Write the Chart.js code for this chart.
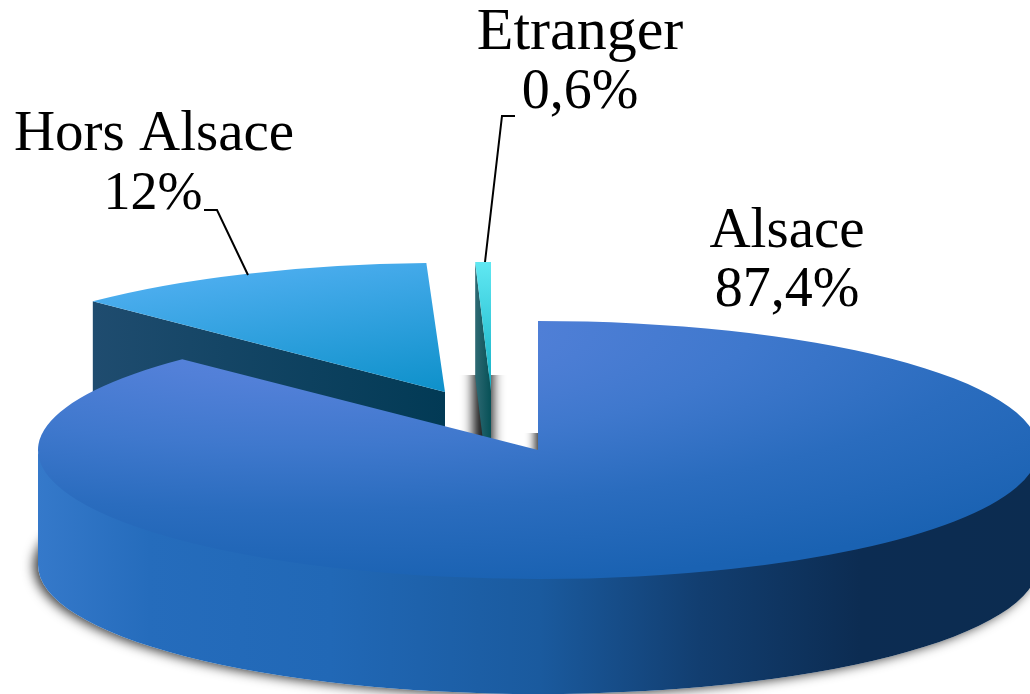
<!DOCTYPE html>
<html>
<head>
<meta charset="utf-8">
<script src="https://cdn.jsdelivr.net/npm/chart.js@4"></script>
<style>
  html, body { margin: 0; padding: 0; background: #fff; overflow: hidden; }
  #wrap { width: 1030px; height: 694px; }
</style>
</head>
<body>
<div id="wrap"><canvas id="pie" width="1030" height="694"></canvas></div>
<script>
const categories = ['Alsace', 'Hors Alsace', 'Etranger'];
const shares = [87.4, 12, 0.6];
const shareLabels = ['87,4%', '12%', '0,6%'];

// look of the tilted pie, in page pixels
const centerX = 538, centerY = 450, rimY = 129, depth = 115;
const rimX = [500, 495, 420];
const pullX = [0, -93, -47];
const pullY = [0, -58, -59];
const faceAxis = [null, [150, 270, 450, 400], [483, 262, 491, 390]];
const faceStops = [null, ['#52b0f2', '#0a8fc8'], ['#60e8f2', '#12b0c6']];
// big slice top is lit from a spot at the back left
const glowX = 300, glowY = 330, glowReach = 2;
const glowStops = [[0, '#5b84de'], [0.2, '#5280d8'], [0.45, '#3f78cd'], [0.7, '#2a6cbe'], [1, '#1a62b2']];
const wallStops = [
  [[38, '#3579ca'], [150, '#256cbc'], [330, '#2168b6'], [540, '#1a5a9e'], [700, '#123e70'], [860, '#0c2c52'], [1040, '#0c2c50']],
  [[93, '#1f4c6f'], [445, '#023a55']],
  [[475, '#2f6a74'], [491, '#065056']]
];
const labelSpots = [[787, 247, 787, 306], [154, 150, 153, 209], [580, 49, 580, 108]];
const nameSizes = [57, 57, 60];
const shareSizes = [56, 54, 56];
const leaders = [null, [[204, 210], [217, 210], [248, 275]], [[515, 116], [502, 116], [485, 262]]];

function faceFill(c) {
  const i = c.dataIndex, ch = c.chart;
  const R = Math.min(ch.width, ch.height) / 2;
  const sx = rimX[i] / R, sy = rimY / R;
  const ox = centerX + pullX[i], oy = centerY + pullY[i];
  const ux = x => ch.width / 2 + (x - ox) / sx;
  const uy = y => ch.height / 2 + (y - oy) / sy;
  if (i === 0) {
    const g = ch.ctx.createRadialGradient(ux(glowX), uy(glowY), 0, ux(glowX), uy(glowY), R * glowReach);
    glowStops.forEach(s => g.addColorStop(s[0], s[1]));
    return g;
  }
  const a = faceAxis[i];
  const g = ch.ctx.createLinearGradient(ux(a[0]), uy(a[1]), ux(a[2]), uy(a[3]));
  g.addColorStop(0, faceStops[i][0]);
  g.addColorStop(1, faceStops[i][1]);
  return g;
}

function wallFill(ctx, i) {
  const st = wallStops[i];
  const x0 = st[0][0], x1 = st[st.length - 1][0];
  const g = ctx.createLinearGradient(x0, 0, x1, 0);
  st.forEach(s => g.addColorStop((s[0] - x0) / (x1 - x0), s[1]));
  return g;
}

// only the blurred shadow lands on the canvas, the rect itself is far off to the left
function blurredRect(ctx, box, x, y, w, h, blur, alpha) {
  ctx.save();
  ctx.beginPath();
  ctx.rect(box[0], box[1], box[2], box[3]);
  ctx.clip();
  ctx.shadowColor = 'rgba(0,0,0,' + alpha + ')';
  ctx.shadowBlur = blur;
  ctx.shadowOffsetX = 3000;
  ctx.fillStyle = '#000';
  ctx.fillRect(x - 3000, y, w, h);
  ctx.restore();
}

function softShadows(ctx) {
  // under the base, the ellipse itself ends up behind the wall
  ctx.save();
  ctx.shadowColor = 'rgba(0,0,0,0.8)';
  ctx.shadowBlur = 12;
  ctx.shadowOffsetX = -4;
  ctx.shadowOffsetY = 1;
  ctx.fillStyle = '#fff';
  ctx.beginPath();
  ctx.rect(0, centerY + 80, 1030, 300);
  ctx.clip();
  ctx.beginPath();
  ctx.ellipse(centerX, centerY + depth, rimX[0], rimY, 0, 0, Math.PI * 2);
  ctx.fill();
  ctx.restore();
  blurredRect(ctx, [450, 375, 70, 70], 473, 340, 20, 110, 12, 0.9);
  blurredRect(ctx, [515, 433, 23, 20], 535, 410, 25, 50, 10, 0.85);
}

function drawWall(ctx, arc, i) {
  const tx = centerX + pullX[i], ty = centerY + pullY[i];
  ctx.fillStyle = wallFill(ctx, i);
  if (i === 0) {
    // outer rim, front half only, starts a bit higher so no seam shows under the top
    ctx.beginPath();
    ctx.ellipse(tx, ty - 3, rimX[i], rimY, 0, 0, Math.PI);
    ctx.ellipse(tx, ty + depth, rimX[i], rimY, 0, Math.PI, 0, true);
    ctx.closePath();
    ctx.fill();
    return;
  }
  // cut face that looks at the viewer
  const px = tx + rimX[i] * Math.cos(arc.startAngle), py = ty + rimY * Math.sin(arc.startAngle);
  ctx.beginPath();
  ctx.moveTo(px, py);
  ctx.lineTo(tx, ty);
  ctx.lineTo(tx, ty + depth);
  ctx.lineTo(px, py + depth);
  ctx.closePath();
  ctx.fill();
}

const tiltedPie = {
  id: 'tiltedPie',
  beforeDatasetsDraw(chart) {
    const ctx = chart.ctx, arcs = chart.getDatasetMeta(0).data;
    const order = [1, 2, 0];
    softShadows(ctx);
    order.forEach(i => drawWall(ctx, arcs[i], i));
    order.forEach(i => {
      const arc = arcs[i];
      ctx.save();
      ctx.translate(centerX + pullX[i], centerY + pullY[i]);
      ctx.scale(rimX[i] / arc.outerRadius, rimY / arc.outerRadius);
      ctx.translate(-arc.x, -arc.y);
      arc.draw(ctx);
      ctx.restore();
    });
    return false;
  },
  afterDraw(chart) {
    const ctx = chart.ctx;
    ctx.save();
    ctx.strokeStyle = '#000';
    ctx.lineWidth = 2;
    leaders.forEach(pts => {
      if (!pts) return;
      ctx.beginPath();
      pts.forEach((p, k) => k ? ctx.lineTo(p[0], p[1]) : ctx.moveTo(p[0], p[1]));
      ctx.stroke();
    });
    ctx.fillStyle = '#000';
    ctx.textAlign = 'center';
    ctx.textBaseline = 'alphabetic';
    categories.forEach((name, i) => {
      const s = labelSpots[i];
      ctx.font = nameSizes[i] + 'px "Liberation Serif"';
      ctx.fillText(name, s[0], s[1]);
      ctx.font = shareSizes[i] + 'px "Liberation Serif"';
      ctx.fillText(shareLabels[i], s[2], s[3]);
    });
    ctx.restore();
  }
};

new Chart(document.getElementById('pie').getContext('2d'), {
  type: 'pie',
  data: {
    labels: categories,
    datasets: [{ data: shares, backgroundColor: faceFill, borderWidth: 0 }]
  },
  options: {
    responsive: false,
    animation: false,
    layout: { padding: 0 },
    plugins: { legend: { display: false }, tooltip: { enabled: false } }
  },
  plugins: [tiltedPie]
});
</script>
</body>
</html>
